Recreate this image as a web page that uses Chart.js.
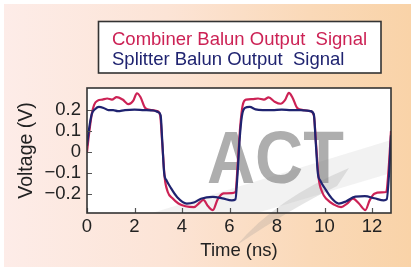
<!DOCTYPE html>
<html>
<head>
<meta charset="utf-8">
<script src="https://cdn.jsdelivr.net/npm/chart.js@4.4.1/dist/chart.umd.min.js"></script>
<style>
  html, body { margin: 0; padding: 0; background: #fff; }
  .wrap { position: relative; width: 413px; height: 272px; overflow: hidden; }
  .bg {
    position: absolute; left: 4px; top: 4px; width: 407px; height: 263px;
    background: linear-gradient(to right, #fdece8 0%, #fce4d6 40%, #fad9b8 75%, #f9d3a8 100%);
  }
  canvas { position: absolute; left: 0; top: 0; }
</style>
</head>
<body>
<div class="wrap">
  <div class="bg"></div>
  <canvas id="myChart" width="413" height="272"></canvas>
</div>
<script>
// series labels
const seriesNames = ["Combiner Balun Output  Signal", "Splitter Balun Output  Signal"];

// combiner balun (red) – time in ns, voltage in V
const combinerTime = [0.0, 0.1, 0.2, 0.3, 0.45, 0.65, 0.85, 1.05, 1.25, 1.5, 1.75, 1.95, 2.1, 2.25, 2.45, 2.7, 2.95, 3.08, 3.17, 3.27, 3.4, 3.6, 3.85, 4.15, 4.5, 4.75, 4.9, 5.1, 5.3, 5.5, 5.75, 6.1, 6.25, 6.35, 6.45, 6.55, 6.7, 6.95, 7.2, 7.45, 7.65, 7.9, 8.15, 8.35, 8.5, 8.65, 8.85, 9.1, 9.4, 9.55, 9.65, 9.75, 9.9, 10.1, 10.4, 10.7, 10.95, 11.2, 11.45, 11.72, 11.9, 12.1, 12.4, 12.6, 12.7, 12.8];
const combinerVolts = [0.0, 0.1, 0.18, 0.225, 0.245, 0.25, 0.255, 0.25, 0.262, 0.25, 0.228, 0.245, 0.28, 0.262, 0.21, 0.2, 0.195, 0.175, 0.04, -0.12, -0.19, -0.22, -0.245, -0.258, -0.262, -0.24, -0.228, -0.258, -0.276, -0.225, -0.197, -0.195, -0.19, -0.05, 0.12, 0.22, 0.25, 0.252, 0.255, 0.25, 0.26, 0.24, 0.23, 0.25, 0.282, 0.26, 0.21, 0.2, 0.195, 0.175, 0.03, -0.12, -0.19, -0.225, -0.25, -0.262, -0.245, -0.222, -0.245, -0.276, -0.23, -0.198, -0.192, -0.19, -0.08, 0.1];

// splitter balun (blue)
const splitterTime = [0.0, 0.1, 0.2, 0.35, 0.5, 0.7, 0.9, 1.1, 1.3, 1.6, 2.0, 2.4, 2.8, 3.0, 3.1, 3.17, 3.25, 3.35, 3.5, 3.8, 4.2, 4.5, 4.8, 5.3, 5.7, 6.1, 6.25, 6.33, 6.42, 6.52, 6.65, 6.85, 7.1, 7.4, 7.8, 8.2, 8.6, 9.0, 9.4, 9.55, 9.63, 9.72, 9.82, 10.0, 10.3, 10.6, 10.9, 11.3, 11.7, 12.1, 12.5, 12.62, 12.72, 12.8];
const splitterVolts = [0.03, 0.12, 0.18, 0.205, 0.215, 0.21, 0.2, 0.2, 0.195, 0.2, 0.202, 0.2, 0.198, 0.19, 0.175, 0.05, -0.1, -0.135, -0.165, -0.215, -0.245, -0.24, -0.222, -0.213, -0.22, -0.23, -0.225, -0.12, 0.05, 0.17, 0.21, 0.215, 0.203, 0.2, 0.2, 0.202, 0.2, 0.2, 0.195, 0.18, 0.05, -0.1, -0.135, -0.17, -0.22, -0.245, -0.235, -0.212, -0.21, -0.22, -0.23, -0.225, -0.1, 0.08];

// axes
const xTicks = [0, 2, 4, 6, 8, 10, 12];
const xTickLabels = ["0", "2", "4", "6", "8", "10", "12"];
const yTicks = [-0.2, -0.1, 0, 0.1, 0.2];
const yTickLabels = ["\u22120.2", "\u22120.1", "0", "0.1", "0.2"];

const redColor = "#cc2255";
const blueColor = "#1f2370";
const textColor = "#222";
const fontFamily = "'Liberation Sans', Arial, sans-serif";

Chart.defaults.font.family = fontFamily;

const toPoints = (xs, ys) => xs.map((x, i) => ({ x: x, y: ys[i] }));

// white plot area + ACT watermark, drawn under axes and lines
const backdropPlugin = {
  id: "backdrop",
  beforeDraw(chart) {
    const { ctx, chartArea: a } = chart;
    ctx.save();
    ctx.fillStyle = "#fff";
    ctx.fillRect(a.left, a.top, a.right - a.left, a.bottom - a.top);

    // swoosh: broad pale wedge and a darker sweep below the letters
    ctx.fillStyle = "rgba(150,150,150,0.12)";
    ctx.beginPath();
    ctx.moveTo(a.left + 65, a.bottom);
    ctx.lineTo(a.right, a.top + 52);
    ctx.lineTo(a.right, a.top + 85);
    ctx.lineTo(a.left + 170, a.bottom);
    ctx.closePath();
    ctx.fill();
    ctx.fillStyle = "rgba(140,140,140,0.22)";
    ctx.beginPath();
    ctx.moveTo(a.left + 150, a.bottom + 32);
    ctx.quadraticCurveTo(a.left + 190, a.top + 110, a.left + 262, a.top + 80);
    ctx.lineTo(a.left + 250, a.top + 98);
    ctx.quadraticCurveTo(a.left + 205, a.top + 120, a.left + 150, a.bottom + 32);
    ctx.closePath();
    ctx.fill();

    // ACT letters
    ctx.fillStyle = "rgba(120,120,120,0.6)";
    ctx.font = "bold 74px " + fontFamily;
    ctx.textBaseline = "alphabetic";
    ctx.translate(a.left + 120, a.top + 95);
    ctx.scale(0.9, 1);
    ctx.fillText("ACT", 0, 0);
    ctx.restore();
  },
  afterDatasetsDraw(chart) {
    const { ctx, chartArea: a, scales } = chart;
    ctx.save();
    // inner tick marks
    ctx.strokeStyle = "#555";
    ctx.lineWidth = 1.2;
    ctx.beginPath();
    scales.x.ticks.forEach(t => {
      const px = Math.round(scales.x.getPixelForValue(t.value)) + 0.5;
      ctx.moveTo(px, a.bottom);
      ctx.lineTo(px, a.bottom - 5);
    });
    scales.y.ticks.forEach(t => {
      const py = Math.round(scales.y.getPixelForValue(t.value)) + 0.5;
      ctx.moveTo(a.left, py);
      ctx.lineTo(a.left + 5, py);
    });
    ctx.stroke();
    // frame
    ctx.strokeStyle = "#333";
    ctx.lineWidth = 1.6;
    ctx.strokeRect(a.left, a.top, a.right - a.left, a.bottom - a.top);
    ctx.restore();
  },
  afterDraw(chart) {
    // legend box with coloured text
    const { ctx } = chart;
    ctx.save();
    ctx.fillStyle = "#fff";
    ctx.fillRect(98.5, 21.5, 282.5, 51.5);
    ctx.strokeStyle = "#333";
    ctx.lineWidth = 1.6;
    ctx.strokeRect(98.5, 21.5, 282.5, 51.5);
    ctx.font = "18.5px " + fontFamily;
    ctx.textBaseline = "alphabetic";
    ctx.textAlign = "left";
    chart.data.datasets.forEach((ds, i) => {
      ctx.fillStyle = ds.borderColor;
      ctx.fillText(ds.label, 112, 44.5 + i * 20);
    });
    ctx.restore();
  }
};

new Chart(document.getElementById("myChart"), {
  type: "line",
  data: {
    datasets: [
      {
        label: seriesNames[0],
        data: toPoints(combinerTime, combinerVolts),
        borderColor: redColor,
        borderWidth: 2.2,
        pointRadius: 0,
        cubicInterpolationMode: "monotone",
        order: 2
      },
      {
        label: seriesNames[1],
        data: toPoints(splitterTime, splitterVolts),
        borderColor: blueColor,
        borderWidth: 2.2,
        pointRadius: 0,
        cubicInterpolationMode: "monotone",
        order: 1
      }
    ]
  },
  options: {
    responsive: false,
    animation: false,
    layout: { padding: { top: 88, right: 22, left: 0, bottom: 0 } },
    plugins: {
      legend: { display: false },
      tooltip: { enabled: false }
    },
    scales: {
      x: {
        type: "linear",
        min: 0,
        max: 12.8,
        afterBuildTicks: axis => { axis.ticks = xTicks.map(v => ({ value: v })); },
        afterFit: axis => { axis.height = 59; },
        grid: { display: false, drawTicks: false },
        border: { display: false },
        ticks: {
          padding: 3,
          maxRotation: 0,
          color: textColor,
          font: { size: 18.5 },
          callback: (v, i) => xTickLabels[i]
        },
        title: {
          display: true,
          text: "Time (ns)",
          color: textColor,
          font: { size: 18.5 },
          padding: { top: 0, bottom: 10 }
        }
      },
      y: {
        min: -0.29,
        max: 0.305,
        afterBuildTicks: axis => { axis.ticks = yTicks.map(v => ({ value: v })); },
        afterFit: axis => { axis.width = 87; },
        grid: { display: false, drawTicks: false },
        border: { display: false },
        ticks: {
          padding: 6,
          color: textColor,
          font: { size: 18.5 },
          callback: (v, i) => yTickLabels[i]
        },
        title: {
          display: true,
          text: "Voltage (V)",
          color: textColor,
          font: { size: 19.5 },
          padding: { top: 15, bottom: 0 }
        }
      }
    }
  },
  plugins: [backdropPlugin]
});
</script>
</body>
</html>
